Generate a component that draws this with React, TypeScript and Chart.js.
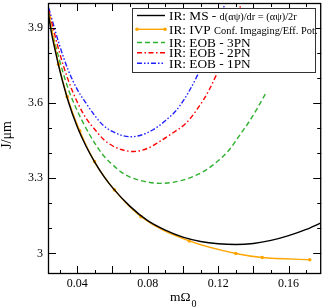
import React, { useEffect, useRef } from "react";
import { Chart, registerables } from "chart.js";
Chart.register(...registerables);

// ---- data ----
const msX = [0.0236, 0.025, 0.0275, 0.03, 0.035, 0.04, 0.045, 0.05, 0.055, 0.06, 0.07, 0.08, 0.09, 0.1, 0.11, 0.12, 0.13, 0.14, 0.15, 0.16, 0.17, 0.178];
const msY = [3.96, 3.895, 3.81, 3.733, 3.605, 3.506, 3.428, 3.364, 3.309, 3.263, 3.188, 3.131, 3.093, 3.065, 3.048, 3.039, 3.036, 3.04, 3.052, 3.071, 3.096, 3.121];

const ivpX = [0.0242, 0.0294, 0.0343, 0.0414, 0.0498, 0.0611, 0.0762, 0.1036, 0.13, 0.145, 0.172];
const ivpY = [3.943, 3.755, 3.626, 3.49, 3.367, 3.254, 3.147, 3.05, 3.0, 2.984, 2.975];

const eob3X = [0.0238, 0.025, 0.03, 0.035, 0.04, 0.045, 0.05, 0.055, 0.06, 0.065, 0.07, 0.08, 0.087, 0.095, 0.105, 0.113, 0.12, 0.1262, 0.133, 0.1394, 0.147];
const eob3Y = [3.96, 3.91, 3.77, 3.655, 3.57, 3.5, 3.44, 3.39, 3.355, 3.325, 3.305, 3.285, 3.28, 3.285, 3.305, 3.333, 3.37, 3.413, 3.48, 3.546, 3.639];

const eob2X = [0.0238, 0.03, 0.035, 0.04, 0.045, 0.05, 0.055, 0.06, 0.065, 0.072, 0.08, 0.0866, 0.094, 0.1017, 0.108, 0.1148, 0.124, 0.1328];
const eob2Y = [3.97, 3.8, 3.69, 3.605, 3.54, 3.495, 3.455, 3.43, 3.415, 3.407, 3.42, 3.446, 3.48, 3.52, 3.575, 3.652, 3.8, 3.99];

const eob1X = [0.0238, 0.03, 0.035, 0.04, 0.045, 0.05, 0.055, 0.06, 0.065, 0.0705, 0.076, 0.0828, 0.09, 0.0979, 0.1083, 0.116, 0.124];
const eob1Y = [3.98, 3.83, 3.73, 3.655, 3.6, 3.55, 3.51, 3.487, 3.472, 3.466, 3.472, 3.493, 3.53, 3.586, 3.712, 3.84, 4.0];

const xTickLabels = [0.04, 0.08, 0.12, 0.16];
const yTickLabels = [3, 3.3, 3.6, 3.9];
const xTickMarks = [0.03, 0.04, 0.05, 0.06, 0.07, 0.08, 0.09, 0.1, 0.11, 0.12, 0.13, 0.14, 0.15, 0.16, 0.17];
const yTickMarks = [3.0, 3.1, 3.2, 3.3, 3.4, 3.5, 3.6, 3.7, 3.8, 3.9];

const SERIF = "'Liberation Serif', 'DejaVu Serif', serif";

type Series = {
  big: string;
  small: string;
  xs: number[];
  ys: number[];
  color: string;
  dash: number[];
  marker: boolean;
};

const series: Series[] = [
  { big: "IR: MS - ", small: "d(\u03b1\u03c8)/dr = (\u03b1\u03c8)/2r", xs: msX, ys: msY, color: "#000000", dash: [], marker: false },
  { big: "IR: IVP ", small: "Conf. Imgaging/Eff. Pot.", xs: ivpX, ys: ivpY, color: "#ffa500", dash: [], marker: true },
  { big: "IR: EOB - 3PN", small: "", xs: eob3X, ys: eob3Y, color: "#2fb02f", dash: [5, 3], marker: false },
  { big: "IR: EOB - 2PN", small: "", xs: eob2X, ys: eob2Y, color: "#ff0000", dash: [5, 2.5, 1.5, 2.5], marker: false },
  { big: "IR: EOB - 1PN", small: "", xs: eob1X, ys: eob1Y, color: "#2020ff", dash: [5, 2, 1.5, 2, 1.5, 2], marker: false },
];

const frameTicks = {
  id: "frameTicks",
  afterDatasetsDraw(chart: any) {
    const { ctx, chartArea: a, scales } = chart;
    const x = scales.x, y = scales.y;
    ctx.save();
    ctx.strokeStyle = "#000";
    ctx.lineWidth = 1;
    ctx.setLineDash([]);
    ctx.beginPath();
    for (const v of xTickMarks) {
      const px = Math.round(x.getPixelForValue(v)) + 0.5;
      const len = Math.round(v * 100) % 2 === 0 ? 8 : 4;
      ctx.moveTo(px, a.bottom);
      ctx.lineTo(px, a.bottom - len);
      ctx.moveTo(px, a.top);
      ctx.lineTo(px, a.top + len);
    }
    for (const v of yTickMarks) {
      const py = Math.round(y.getPixelForValue(v)) + 0.5;
      const len = Math.round(v * 10) % 3 === 0 ? 8 : 4;
      ctx.moveTo(a.left, py);
      ctx.lineTo(a.left + len, py);
      ctx.moveTo(a.right, py);
      ctx.lineTo(a.right - len, py);
    }
    ctx.stroke();
    ctx.lineWidth = 1.3;
    ctx.strokeRect(a.left + 0.5, a.top + 0.5, a.right - a.left - 1, a.bottom - a.top - 1);
    ctx.restore();
  },
  afterDraw(chart: any) {
    const { ctx } = chart;
    ctx.save();
    // legend box
    const bx = 132, by = 8, bw = 183, bh = 64;
    ctx.fillStyle = "#ffffff";
    ctx.fillRect(bx, by, bw, bh);
    ctx.strokeStyle = "#333";
    ctx.lineWidth = 1;
    ctx.strokeRect(bx + 0.5, by + 0.5, bw, bh);
    const rowsC = [15.5, 29.3, 42.5, 52.8, 63.2];
    series.forEach((s, i) => {
      const cy = rowsC[i];
      ctx.strokeStyle = s.color;
      ctx.lineWidth = 1.4;
      ctx.setLineDash(s.dash);
      ctx.beginPath();
      ctx.moveTo(137, cy);
      ctx.lineTo(165, cy);
      ctx.stroke();
      ctx.setLineDash([]);
      if (s.marker) {
        ctx.fillStyle = s.color;
        for (const mx of [137, 165]) {
          ctx.beginPath();
          ctx.arc(mx, cy, 1.8, 0, Math.PI * 2);
          ctx.fill();
        }
      }
      ctx.fillStyle = "#000";
      ctx.textBaseline = "alphabetic";
      ctx.textAlign = "left";
      ctx.font = `13.3px ${SERIF}`;
      const base = cy + 4.5;
      ctx.fillText(s.big, 169, base);
      const w = ctx.measureText(s.big).width;
      if (s.small) {
        ctx.font = `10.4px ${SERIF}`;
        ctx.fillText(s.small, 169 + w, base);
      }
    });
    // axis titles
    ctx.fillStyle = "#000";
    ctx.font = `13.5px ${SERIF}`;
    ctx.textAlign = "left";
    ctx.textBaseline = "alphabetic";
    const mW = ctx.measureText("m\u03a9").width;
    ctx.fillText("m\u03a9", 170, 301);
    ctx.font = `10px ${SERIF}`;
    ctx.fillText("0", 170 + mW + 1, 306.5);
    ctx.save();
    ctx.translate(10.8, 135);
    ctx.rotate(-Math.PI / 2);
    ctx.font = `14px ${SERIF}`;
    ctx.textAlign = "center";
    ctx.fillText("J/\u03bcm", 0, 0);
    ctx.restore();
    ctx.restore();
  },
};

export default function App() {
  const ref = useRef<HTMLCanvasElement | null>(null);
  useEffect(() => {
    if (!ref.current) return;
    const datasets = series.map((s) => ({
      label: s.big + s.small,
      data: s.xs.map((v, i) => ({ x: v, y: s.ys[i] })),
      borderColor: s.color,
      backgroundColor: s.color,
      borderWidth: 1.4,
      borderDash: s.dash,
      showLine: true,
      fill: false,
      tension: 0.4,
      cubicInterpolationMode: "monotone" as const,
      pointRadius: s.marker ? 1.8 : 0,
      pointHoverRadius: 0,
      pointBorderWidth: 0,
    }));
    const chart = new Chart(ref.current, {
      type: "scatter",
      data: { datasets },
      options: {
        responsive: false,
        animation: false,
        devicePixelRatio: 1,
        layout: { padding: { top: 3, right: 1, left: 0, bottom: 0 } },
        plugins: { legend: { display: false }, tooltip: { enabled: false } },
        scales: {
          x: {
            type: "linear",
            min: 0.0234,
            max: 0.1785,
            grid: { display: false, drawTicks: false },
            border: { display: false },
            afterBuildTicks: (sc: any) => {
              sc.ticks = xTickLabels.map((v) => ({ value: v }));
            },
            afterFit: (sc: any) => {
              sc.height = 33;
              sc.paddingLeft = 0;
              sc.paddingRight = 0;
              sc.paddingTop = 0;
              sc.paddingBottom = 0;
            },
            ticks: {
              padding: 3,
              color: "#000",
              font: { family: SERIF, size: 12 },
              callback: (v: any) => Number(v).toFixed(2),
            },
          },
          y: {
            type: "linear",
            min: 2.918,
            max: 4.0,
            grid: { display: false, drawTicks: false },
            border: { display: false },
            afterBuildTicks: (sc: any) => {
              sc.ticks = yTickLabels.map((v) => ({ value: v }));
            },
            afterFit: (sc: any) => {
              sc.width = 48;
              sc.paddingLeft = 0;
              sc.paddingRight = 0;
              sc.paddingTop = 0;
              sc.paddingBottom = 0;
            },
            ticks: {
              padding: 5,
              color: "#000",
              font: { family: SERIF, size: 12 },
              callback: (v: any) => String(Math.round(Number(v) * 10) / 10),
            },
          },
        },
      },
      plugins: [frameTicks],
    });
    return () => chart.destroy();
  }, []);
  return (
    <div style={{ position: "fixed", left: 0, top: 0, width: 323, height: 307, background: "#fff" }}>
      <canvas ref={ref} width={323} height={307} style={{ width: 323, height: 307, display: "block" }} />
    </div>
  );
}
